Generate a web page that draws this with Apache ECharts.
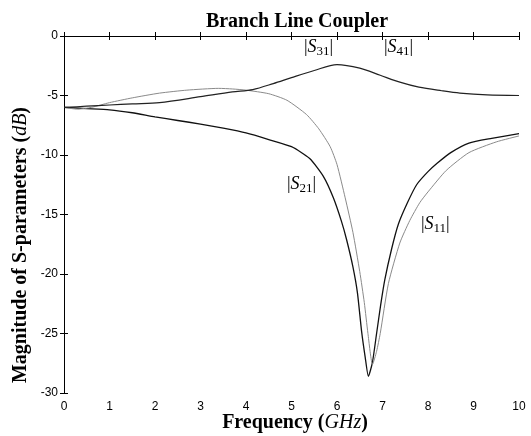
<!DOCTYPE html>
<html>
<head>
<meta charset="utf-8">
<script src="https://cdn.jsdelivr.net/npm/echarts@6/dist/echarts.min.js"></script>
<style>
  html, body { margin: 0; padding: 0; background: #fff; }
  #chart { width: 531px; height: 436px; }
</style>
</head>
<body>
<div id="chart"></div>
<script>
// values (GHz, dB)
const freqS21 = [0, 0.5, 1, 1.5, 2, 2.5, 3, 3.5, 4, 4.5, 5, 5.4, 5.7, 5.92, 6.1, 6.21, 6.35, 6.45, 6.54, 6.62, 6.69, 6.78, 6.87, 6.96, 7.05, 7.2, 7.35, 7.55, 7.75, 8.0, 8.2, 8.5, 8.9, 9.4, 10];
const magS21 = [-6.0, -6.1, -6.2, -6.45, -6.8, -7.1, -7.4, -7.75, -8.15, -8.7, -9.3, -10.3, -11.8, -13.6, -15.6, -17.1, -19.4, -21.6, -24.8, -27.0, -28.6, -27.4, -25.0, -22.6, -20.5, -17.9, -15.8, -14.0, -12.5, -11.4, -10.7, -9.8, -9.0, -8.6, -8.2];

const freqS11 = [0, 0.3, 0.6, 1.0, 1.5, 2.1, 2.7, 3.4, 3.7, 4.0, 4.5, 4.9, 5.33, 5.6, 5.85, 6.0, 6.18, 6.35, 6.5, 6.6, 6.68, 6.78, 6.87, 6.95, 7.13, 7.38, 7.6, 7.82, 8.0, 8.4, 8.9, 9.5, 10];
const magS11 = [-6.0, -6.15, -6.0, -5.6, -5.2, -4.8, -4.55, -4.4, -4.45, -4.55, -4.85, -5.4, -6.6, -7.8, -9.3, -10.8, -13.6, -16.5, -19.8, -22.4, -25.0, -27.6, -26.5, -25.0, -20.8, -17.4, -15.5, -14.0, -13.1, -11.3, -9.8, -8.9, -8.4];

const freqS31 = [0, 0.5, 1.0, 1.5, 2.1, 3.0, 3.7, 4.15, 4.6, 5.0, 5.5, 6.0, 6.5, 6.95, 7.4, 7.8, 8.3, 8.7, 9.3, 10];
const magS31 = [-6.0, -5.9, -5.8, -5.7, -5.6, -5.1, -4.7, -4.5, -4.0, -3.5, -2.9, -2.4, -2.7, -3.3, -3.9, -4.3, -4.6, -4.8, -4.95, -5.0];

const pairs = (xs, ys) => xs.map((x, i) => [x, ys[i]]);

const serif = 'Liberation Serif';
const sans = 'Liberation Sans';

const chart = echarts.init(document.getElementById('chart'), null, { renderer: 'canvas' });

const tickX = {
  type: 'value', min: 0, max: 10, interval: 1,
  axisLine: { show: true, lineStyle: { color: '#000', width: 1 } },
  axisTick: { show: true, inside: true, length: 4, lineStyle: { color: '#000' } },
  splitLine: { show: false }
};
const tickY = {
  type: 'value', min: -30, max: 0, interval: 5,
  axisLine: { show: true, lineStyle: { color: '#000', width: 1 } },
  axisTick: { show: true, inside: true, length: 4, lineStyle: { color: '#000' } },
  splitLine: { show: false }
};

const subRich = {
  s: { fontFamily: serif, fontStyle: 'italic', fontSize: 18, color: '#000' },
  b: { fontFamily: serif, fontSize: 18, color: '#000' },
  sub: { fontFamily: serif, fontSize: 13, color: '#000', padding: [9, 0, 0, 0] }
};
const labRich = {
  b: { fontFamily: serif, fontWeight: 'bold', fontSize: 20, color: '#000' },
  i: { fontFamily: serif, fontStyle: 'italic', fontSize: 20, color: '#000' }
};

function sLabel(idx, left, top) {
  return {
    type: 'text', left: left, top: top,
    style: { text: '{b||}{s|S}{sub|' + idx + '}{b||}', rich: subRich }
  };
}

chart.setOption({
  backgroundColor: '#fff',
  animation: false,
  title: {
    text: 'Branch Line Coupler',
    left: 292, top: 7, textAlign: 'center',
    textStyle: { fontFamily: serif, fontWeight: 'bold', fontSize: 20, color: '#000' }
  },
  grid: { left: 64, right: 12, top: 36, bottom: 43 },
  xAxis: [
    Object.assign({}, tickX, {
      position: 'bottom',
      axisLabel: { color: '#000', fontFamily: sans, fontSize: 12, margin: 8 }
    }),
    Object.assign({}, tickX, { position: 'top', axisLabel: { show: false } })
  ],
  yAxis: [
    Object.assign({}, tickY, {
      position: 'left',
      axisLabel: { color: '#000', fontFamily: sans, fontSize: 12, margin: 6 }
    }),
    Object.assign({}, tickY, { position: 'right', axisLabel: { show: false } })
  ],
  series: [
    {
      name: '|S21|', type: 'line', data: pairs(freqS21, magS21),
      smooth: 0.2, showSymbol: false,
      lineStyle: { color: '#111', width: 1.3 }
    },
    {
      name: '|S11|', type: 'line', data: pairs(freqS11, magS11),
      smooth: 0.2, showSymbol: false,
      lineStyle: { color: '#8a8a8a', width: 1 }
    },
    {
      name: '|S31|', type: 'line', data: pairs(freqS31, magS31),
      smooth: 0.3, showSymbol: false,
      lineStyle: { color: '#222', width: 1.2 }
    }
  ],
  graphic: [
    {
      type: 'text', x: 295, y: 423,
      style: { text: '{b|Frequency (}{i|GHz}{b|)}', rich: labRich, align: 'center', verticalAlign: 'middle' }
    },
    {
      type: 'text', x: 21, y: 245, rotation: Math.PI / 2,
      style: { text: '{b|Magnitude of S-parameters (}{i|dB}{b|)}', rich: labRich, align: 'center', verticalAlign: 'middle' }
    },
    sLabel('31', 304, 38),
    sLabel('41', 384, 38),
    sLabel('21', 287, 175),
    sLabel('11', 421, 215)
  ]
});
</script>
</body>
</html>
